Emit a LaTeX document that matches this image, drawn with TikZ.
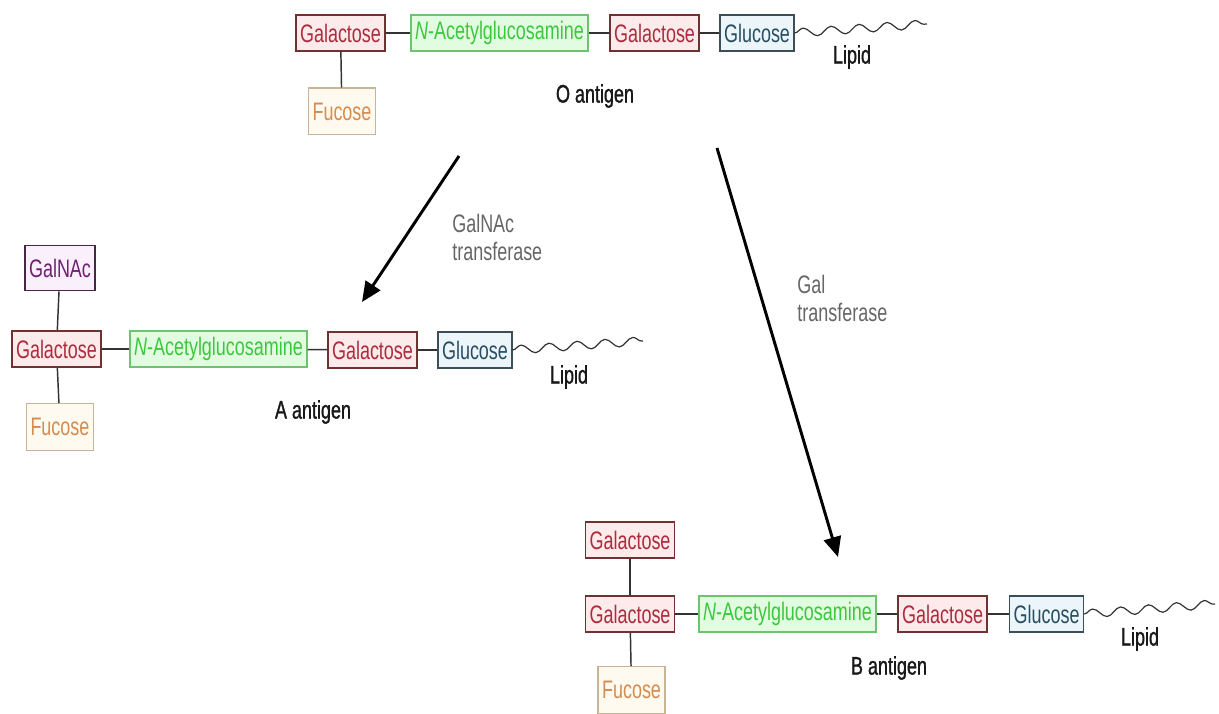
\documentclass[tikz,border=0pt]{standalone}
\usepackage{fontspec}
\setmainfont{Liberation Sans}[FakeStretch=0.71]
\newfontfamily\namefont{Liberation Sans}[FakeStretch=0.71, FakeBold=1.2]
\usetikzlibrary{arrows.meta,decorations.pathmorphing}

\begin{document}
\begin{tikzpicture}[
  x=0.75pt, y=-0.75pt,
  sugar/.style={draw, line width=1pt, inner xsep=3pt, inner ysep=0pt,
    minimum height=27pt, font=\fontsize{19pt}{21pt}\selectfont},
  gal/.style={sugar, draw=galedge, fill=galfill, text=galtext},
  nac/.style={sugar, draw=nacedge, fill=nacfill, text=nactext},
  glc/.style={sugar, draw=glcedge, fill=glcfill, text=glctext},
  fuc/.style={sugar, draw=fucedge, fill=fucfill, text=fuctext, minimum height=35pt},
  gna/.style={sugar, draw=gnaedge, fill=gnafill, text=gnatext, minimum height=34pt},
  lbl/.style={font=\namefont\fontsize{19pt}{21pt}\selectfont, inner sep=0pt, text=black!90},
  enz/.style={font=\fontsize{19pt}{21pt}\selectfont, inner sep=0pt, text=black!60,
    align=left, anchor=west},
  bond/.style={draw=black!80, line width=1.1pt},
  lipid/.style={draw=black!80, line width=0.9pt,
    decorate, decoration={snake, segment length=21pt, amplitude=3.2pt, post length=0pt}},
  step arrow/.style={line width=2.2pt, -{Triangle[length=15pt, width=13pt]}},
]
\definecolor{galtext}{RGB}{172,44,62}
\definecolor{galfill}{RGB}{253,234,234}
\definecolor{galedge}{RGB}{110,50,50}
\definecolor{nactext}{RGB}{60,200,60}
\definecolor{nacfill}{RGB}{226,252,226}
\definecolor{nacedge}{RGB}{110,195,110}
\definecolor{glctext}{RGB}{40,78,98}
\definecolor{glcfill}{RGB}{236,246,250}
\definecolor{glcedge}{RGB}{60,78,88}
\definecolor{fuctext}{RGB}{212,140,80}
\definecolor{fucfill}{RGB}{255,250,240}
\definecolor{fucedge}{RGB}{200,180,150}
\definecolor{gnatext}{RGB}{112,32,112}
\definecolor{gnafill}{RGB}{249,240,251}
\definecolor{gnaedge}{RGB}{70,40,70}

\useasboundingbox (0,0) rectangle (1219,713);

% O antigen
\node [gal] (ogal) at (340.5,33) {Galactose};
\node [nac] (onac) at (499.5,33) {\textit{N}-Acetylglucosamine};
\node [gal] (ogal2) at (654.5,33) {Galactose};
\node [glc] (oglc) at (757,33) {Glucose};
\node [fuc] (ofuc) at (342,111.5) {Fucose};
\coordinate (olip) at (927,24);
\node [lbl] (olipid) at (852,57) {Lipid};
\node [lbl] (oname) at (595,96) {O antigen};

\draw [bond] (ogal) -- (onac);
\draw [bond] (onac) -- (ogal2);
\draw [bond] (ogal2) -- (oglc);
\draw [bond] (ogal) -- (ofuc);
\draw [lipid] (oglc.east) -- (olip);

% A antigen
\node [gal] (agal) at (56.5,349) {Galactose};
\node [nac] (anac) at (218.5,349) {\textit{N}-Acetylglucosamine};
\node [gal] (agal2) at (372.5,350) {Galactose};
\node [glc] (aglc) at (475,350) {Glucose};
\node [gna] (agna) at (60,268) {GalNAc};
\node [fuc] (afuc) at (60,427) {Fucose};
\coordinate (alip) at (643,341);
\node [lbl] (alipid) at (569,377) {Lipid};
\node [lbl] (aname) at (313,412) {A antigen};

\draw [bond] (agal) -- (anac);
\draw [bond] (anac) -- (agal2);
\draw [bond] (agal2) -- (aglc);
\draw [bond] (agal) -- (agna);
\draw [bond] (agal) -- (afuc);
\draw [lipid] (aglc.east) -- (alip);

% B antigen
\node [gal] (bgal) at (630,614) {Galactose};
\node [gal] (bgal0) at (630,540) {Galactose};
\node [nac] (bnac) at (787.5,614) {\textit{N}-Acetylglucosamine};
\node [gal] (bgal2) at (942.5,614) {Galactose};
\node [glc] (bglc) at (1046.5,614) {Glucose};
\node [fuc] (bfuc) at (631.5,690) {Fucose};
\coordinate (blip) at (1215,604);
\node [lbl] (blipid) at (1140,639) {Lipid};
\node [lbl] (bname) at (889,668) {B antigen};

\draw [bond] (bgal) -- (bnac);
\draw [bond] (bnac) -- (bgal2);
\draw [bond] (bgal2) -- (bglc);
\draw [bond] (bgal) -- (bgal0);
\draw [bond] (bgal) -- (bfuc);
\draw [lipid] (bglc.east) -- (blip);

% transferases
\coordinate (afrom) at (459,156);
\coordinate (ato) at (362,302);
\coordinate (bfrom) at (717,148);
\coordinate (bto) at (838,557);
\draw [step arrow] (afrom) -- (ato);
\draw [step arrow] (bfrom) -- (bto);
\node [enz] (aenz) at (452,237) {GalNAc\\transferase};
\node [enz] (benz) at (797,298) {Gal\\transferase};

\end{tikzpicture}
\end{document}
